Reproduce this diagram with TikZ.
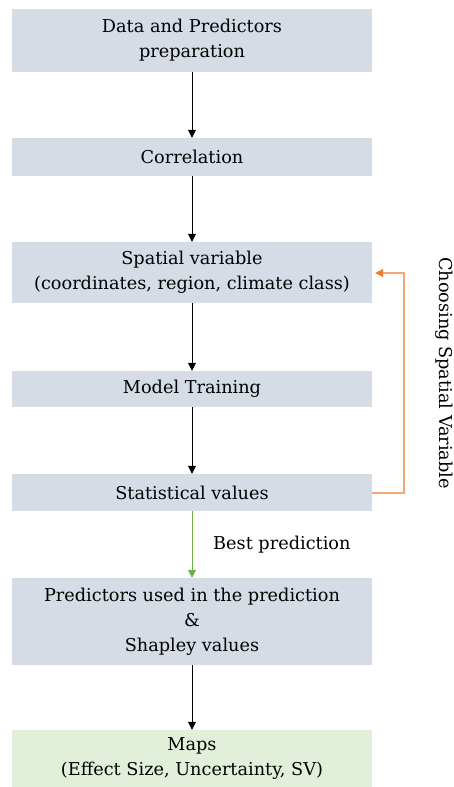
\documentclass[tikz,border=0pt]{standalone}
\usepackage{fontspec}
\setmainfont{DejaVu Serif}
\usetikzlibrary{arrows.meta}
\definecolor{boxblue}{HTML}{D6DCE5}
\definecolor{boxgreen}{HTML}{E2F0D9}
\definecolor{arrgreen}{HTML}{70AD47}
\definecolor{arrorange}{HTML}{F4A772}
\definecolor{tiporange}{HTML}{ED7D31}
\tikzset{
  stepbox/.style={fill=boxblue, draw=none, minimum width=360pt, align=center, inner sep=0pt,
    font=\fontsize{17.7}{25}\selectfont},
  flow/.style={-{Triangle[length=8pt,width=8pt]}, line width=0.8pt, black},
  lbl/.style={font=\fontsize{17.7}{20}\selectfont, inner sep=0pt},
}
\begin{document}
\begin{tikzpicture}[x=1pt,y=1pt]
\useasboundingbox (0,0) rectangle (453,-787);
\node[stepbox, minimum height=63pt] (data) at (192,-40.5) {Data and Predictors\\preparation};
\node[stepbox, minimum height=38pt] (corr) at (192,-157) {Correlation};
\node[stepbox, minimum height=61pt] (spat) at (192,-272.5) {Spatial variable\\(coordinates, region, climate class)};
\node[stepbox, minimum height=36pt] (model) at (192,-389) {Model Training};
\node[stepbox, minimum height=37pt] (stat) at (192,-492.5) {Statistical values};
\node[stepbox, minimum height=87pt] (pred) at (192,-621.5) {Predictors used in the prediction\\\&\\Shapley values};
\node[stepbox, fill=boxgreen, minimum height=57pt] (maps) at (192,-758.5) {Maps\\(Effect Size, Uncertainty, SV)};
\draw[flow] (data) -- (corr);
\draw[flow] (corr) -- (spat);
\draw[flow] (spat) -- (model);
\draw[flow] (model) -- (stat);
\draw[flow, arrgreen] (stat) -- (pred);
\draw[flow] (pred) -- (maps);
\coordinate (c1) at (404,-493);
\coordinate (c2) at (404,-273);
\draw[arrorange, line width=1.2pt, -{Triangle[length=8pt,width=8pt,color=tiporange,fill=tiporange]}, shorten >=3pt]
  (stat.east |- c1) -- (c1) -- (c2) -- (spat.east |- c2);
\node[lbl, rotate=270] (lab) at (444,-373) {Choosing Spatial Variable};
\node[lbl, anchor=west] (best) at (213,-545) {Best prediction};
\end{tikzpicture}
\end{document}
